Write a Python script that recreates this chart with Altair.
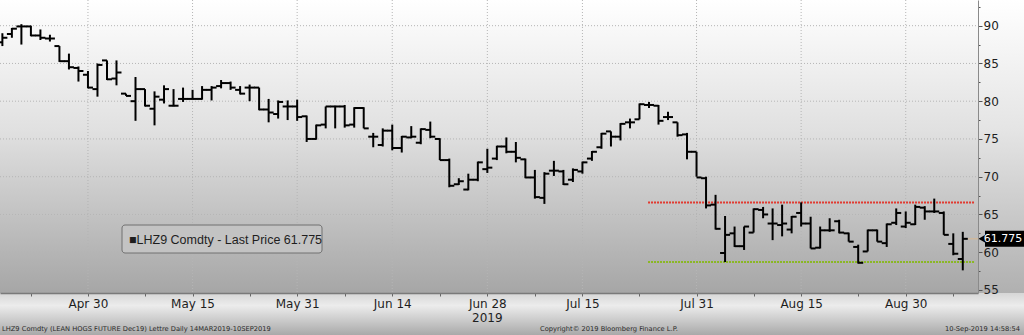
import altair as alt
import pandas as pd

# ---------------- data ----------------
first_index = -9  # trading days relative to Apr 30 (index 0)
opens = [87.8, 88.9, 89.9, 89.9, 88.7, 88.3, 87.3, 85.3, 84.4, 83.5,
         81.6, 85.4, 83.0, 81.0, 80.0, 81.6, 79.0, 80.2, 79.4, 80.3,
         80.3, 80.3, 81.5, 82.0, 82.4, 81.5, 81.8, 81.8, 78.9, 78.3,
         79.3, 79.3, 78.0, 75.0, 76.9, 79.3, 79.3, 76.9, 79.1, 75.3,
         74.2, 76.1, 73.8, 75.2, 74.5, 76.2, 75.0, 72.2, 69.0, 68.3,
         69.6, 71.0, 72.4, 74.0, 73.3, 72.3, 69.9, 67.2, 70.8, 70.7,
         69.6, 70.7, 72.4, 73.9, 76.0, 75.3, 77.2, 77.6, 79.5, 79.4,
         77.9, 77.2, 75.6, 73.3, 69.8, 66.3, 59.9, 62.5, 60.8, 62.6,
         65.6, 63.8, 63.6, 63.0, 65.2, 63.8, 60.6, 62.9, 64.1, 62.5,
         60.7, 60.1, 62.9, 61.2, 63.9, 63.4, 63.7, 65.9, 65.4, 65.2,
         61.1, 59.1]
highs = [89.0, 89.7, 90.2, 90.0, 89.5, 88.8, 87.3, 86.3, 84.6, 84.0,
         85.0, 85.4, 85.4, 81.0, 83.2, 81.6, 81.3, 82.1, 81.6, 81.8,
         81.5, 82.0, 82.0, 82.8, 82.6, 82.0, 82.2, 81.8, 80.3, 80.1,
         80.1, 80.2, 78.1, 76.9, 79.3, 79.4, 79.5, 79.2, 79.2, 75.8,
         76.4, 76.9, 75.4, 76.7, 76.4, 77.3, 75.1, 72.4, 69.8, 70.4,
         72.0, 73.7, 74.1, 75.2, 74.6, 72.4, 70.9, 70.6, 72.1, 70.9,
         71.1, 72.0, 73.4, 75.8, 76.0, 77.1, 77.7, 79.7, 79.9, 79.5,
         78.6, 77.2, 75.8, 73.3, 70.0, 67.6, 64.8, 63.4, 63.4, 65.8,
         66.0, 65.8, 66.3, 64.8, 66.6, 64.7, 63.4, 64.5, 64.3, 62.6,
         61.0, 63.0, 63.0, 63.8, 65.8, 65.4, 66.3, 66.1, 67.1, 65.4,
         62.5, 62.7]
lows = [87.3, 88.4, 87.5, 88.6, 88.1, 87.9, 85.2, 84.2, 82.6, 81.7,
        80.6, 82.8, 82.1, 80.7, 77.4, 79.3, 76.8, 79.7, 79.3, 79.9,
        80.2, 80.2, 80.1, 81.7, 81.5, 80.9, 80.0, 78.8, 77.2, 77.7,
        77.5, 77.4, 74.6, 74.9, 76.4, 76.4, 76.5, 76.5, 76.4, 73.9,
        74.0, 73.5, 73.2, 75.1, 74.3, 75.1, 72.2, 68.6, 68.9, 68.2,
        69.4, 70.5, 72.2, 73.1, 71.9, 69.8, 67.1, 66.4, 70.1, 68.9,
        69.3, 70.4, 72.1, 73.7, 74.0, 74.8, 76.4, 77.6, 79.1, 76.9,
        77.5, 75.3, 72.3, 70.0, 65.8, 63.0, 58.7, 60.7, 60.3, 62.6,
        64.5, 61.6, 62.1, 62.5, 63.4, 60.5, 60.5, 62.7, 62.5, 61.4,
        58.5, 60.1, 61.4, 60.7, 63.6, 63.2, 63.6, 64.3, 65.2, 62.3,
        59.6, 57.6]
closes = [88.4, 89.6, 89.9, 88.7, 88.4, 88.3, 85.3, 84.5, 84.0, 81.8,
          84.8, 82.9, 83.8, 80.7, 81.6, 79.4, 80.6, 81.6, 79.4, 80.3,
          80.3, 81.5, 81.8, 82.4, 81.8, 81.0, 81.8, 78.9, 78.5, 79.9,
          79.3, 77.9, 75.0, 76.8, 79.3, 79.3, 76.8, 79.1, 76.4, 75.3,
          76.1, 73.8, 75.3, 75.3, 76.3, 75.3, 72.2, 68.8, 69.4, 69.6,
          71.9, 71.2, 74.0, 73.3, 72.5, 69.9, 67.3, 70.4, 70.8, 69.0,
          70.9, 71.9, 73.3, 75.7, 75.3, 77.0, 77.2, 79.6, 79.5, 77.4,
          77.9, 75.5, 73.3, 69.9, 66.2, 63.1, 62.3, 60.8, 63.4, 65.7,
          65.0, 63.8, 63.8, 64.7, 63.8, 60.5, 62.9, 62.9, 62.6, 61.4,
          58.6, 62.9, 61.4, 63.7, 65.2, 63.9, 66.0, 65.4, 65.4, 62.3,
          59.8, 61.775]

label_idx = [0, 11, 22, 32, 42, 52, 64, 75, 86]
label_txt = ["Apr 30", "May 15", "May 31", "Jun 14", "Jun 28", "Jul 15", "Jul 31", "Aug 15", "Aug 30"]
minor_idx = [-6, 6, 17, 27, 37, 47, 58, 70, 81, 91]
year_idx = 42
year_txt = "2019"

y_ticks = [55, 57.5, 60, 62.5, 65, 67.5, 70, 72.5, 75, 77.5, 80, 82.5, 85, 87.5, 90, 92.5]
y_grid = [60, 65, 70, 75, 80, 85, 90]

level_values = [66.6, 58.7]
level_colors = ["#e2392f", "#8ab823"]
level_start = 58.9

ticker = "LHZ9 Comdty"
footer_left = "LHZ9 Comdty (LEAN HOGS FUTURE  Dec19) Lettre  Daily 14MAR2019-10SEP2019"
footer_mid = "Copyright\u00a9 2019 Bloomberg Finance L.P."
footer_right = "10-Sep-2019 14:58:54"

# ---------------- frames ----------------
n = len(closes)
df = pd.DataFrame({
    "i": list(range(first_index, first_index + n)),
    "open": opens, "high": highs, "low": lows, "close": closes,
})
last_close = closes[-1]
last_df = pd.DataFrame({"i": [df["i"].iloc[-1]], "v": [last_close],
                        "t": [f"{last_close:.3f}"]})
grid_x_df = pd.DataFrame({"i": label_idx})
grid_y_df = pd.DataFrame({"v": y_grid})
level_df = pd.DataFrame({"i": [level_start] * 2, "v": level_values, "c": level_colors})
year_df = pd.DataFrame({"i": [year_idx], "t": [year_txt]})
one = pd.DataFrame({"k": [0]})

W, H = 978, 293
FONT = "DejaVu Sans"
FONT2 = "Liberation Sans"

xs = alt.Scale(domain=[-9.25, 93.6], nice=False, zero=False)
ys = alt.Scale(domain=[54.6, 93.4], nice=False, zero=False)

all_x = sorted(label_idx + minor_idx)
lab_arr = "[" + ",".join(str(v) for v in label_idx) + "]"
txt_arr = "[" + ",".join("'" + t + "'" for t in label_txt) + "]"
x_axis = alt.Axis(
    values=all_x, grid=False, title=None, orient="bottom", zindex=1,
    labelExpr=f"indexof({lab_arr}, datum.value) >= 0 ? {txt_arr}[indexof({lab_arr}, datum.value)] : ''",
    labelFont=FONT, labelFontSize=12, labelColor="#1e1e1e", labelPadding=2,
    labelOverlap=False, labelFlush=False,
    tickSize=3, tickColor="#666666", domainColor="#7a7a7a", domainWidth=1.5,
)
y_axis = alt.Axis(
    values=y_ticks, grid=False, title=None, orient="right", zindex=1,
    labelExpr="datum.value % 5 === 0 ? datum.label : ''",
    labelFont=FONT, labelFontSize=12, labelColor="#1e1e1e", labelPadding=1,
    tickSize={"condition": {"test": "datum.value % 5 === 0", "value": 4}, "value": 2},
    tickColor="#555555", domainColor="#8a8a8a", domainWidth=1,
)


def X(f="i"):
    return alt.X(f, type="quantitative", scale=xs, axis=x_axis)


def Y(f):
    return alt.Y(f, type="quantitative", scale=ys, axis=y_axis)


def grad(stops):
    return alt.Gradient(gradient="linear", x1=0, x2=0, y1=0, y2=1,
                        stops=[alt.GradientStop(color=c, offset=o) for o, c in stops])


plot_bg = alt.Chart(one).mark_rect(
    fill=grad([(0, "#ffffff"), (0.45, "#e0e0e0"), (1, "#a6a6a6")]), strokeWidth=0
).encode(x=alt.value(0), x2=alt.value(W), y=alt.value(0), y2=alt.value(H))
right_bg = alt.Chart(one).mark_rect(
    fill=grad([(0, "#ffffff"), (0.45, "#e4e4e4"), (1, "#b0b0b0")]), strokeWidth=0
).encode(x=alt.value(W), x2=alt.value(1024), y=alt.value(0), y2=alt.value(H))
bottom_bg = alt.Chart(one).mark_rect(
    fill=grad([(0, "#d6d6d6"), (0.3, "#ececec"), (1, "#a9a9a9")]), strokeWidth=0
).encode(x=alt.value(0), x2=alt.value(1024), y=alt.value(H), y2=alt.value(H + 42))

grid_v = alt.Chart(grid_x_df).mark_rule(color="#b5b5b5", strokeDash=[1, 2], strokeWidth=1).encode(
    x=X(), y=alt.value(0), y2=alt.value(H))
grid_h = alt.Chart(grid_y_df).mark_rule(color="#b5b5b5", strokeDash=[1, 2], strokeWidth=1).encode(
    y=Y("v"), x=alt.value(0), x2=alt.value(W))

levels = alt.Chart(level_df).mark_rule(strokeDash=[2, 1], strokeWidth=2).encode(
    x=X(), x2=alt.value(W - 3), y=Y("v"), color=alt.Color("c:N", scale=None))

base = alt.Chart(df)
hl = base.mark_rule(color="black", strokeWidth=2).encode(x=X(), y=Y("low"), y2="high")
op = base.mark_rule(color="black", strokeWidth=2, xOffset=-5).encode(x=X(), x2="i", y=Y("open"))
cl = base.mark_rule(color="black", strokeWidth=2, x2Offset=5).encode(x=X(), x2="i", y=Y("close"))

legend_box = alt.Chart(one).mark_rect(
    fill="#c3c3c3", stroke="#707070", strokeWidth=1, cornerRadius=3
).encode(x=alt.value(122), x2=alt.value(322), y=alt.value(225), y2=alt.value(253))
legend_txt = alt.Chart(one).mark_text(
    align="left", baseline="middle", font=FONT2, fontSize=12.5, color="#1e1e1e",
    text="\u25a0" + ticker + " - Last Price " + f"{last_close:.3f}"
).encode(x=alt.value(129), y=alt.value(239.5))

last_line = alt.Chart(last_df).mark_rule(color="#d8b890", strokeWidth=1).encode(
    x=alt.value(W - 10), x2=alt.value(W), y=Y("v"))
last_rect = alt.Chart(last_df).mark_rect(color="black", yOffset=-8, y2Offset=8).encode(
    x=alt.value(W + 7), x2=alt.value(1024), y=Y("v"), y2="v")
last_tri = alt.Chart(last_df).mark_point(shape="triangle-left", filled=True, color="black",
                                         opacity=1, size=110).encode(x=alt.value(W + 5), y=Y("v"))
last_txt = alt.Chart(last_df).mark_text(color="white", font=FONT, fontSize=11, align="center",
                                        baseline="middle").encode(
    x=alt.value(1003), y=Y("v"), text="t:N")

year_lbl = alt.Chart(year_df).mark_text(font=FONT, fontSize=12, color="#1e1e1e", baseline="middle").encode(
    x=X(), y=alt.value(H + 25), text="t:N")

f_left = alt.Chart(one).mark_text(align="left", baseline="middle", font=FONT, fontSize=6.7,
                                  color="#2a2a2a", text=footer_left).encode(
    x=alt.value(2), y=alt.value(329))
f_mid = alt.Chart(one).mark_text(align="left", baseline="middle", font=FONT, fontSize=6.7,
                                 color="#2a2a2a", text=footer_mid).encode(
    x=alt.value(540), y=alt.value(329))
f_right = alt.Chart(one).mark_text(align="right", baseline="middle", font=FONT, fontSize=6.7,
                                   color="#2a2a2a", text=footer_right).encode(
    x=alt.value(1020), y=alt.value(329))

chart = alt.layer(
    plot_bg, right_bg, bottom_bg, grid_v, grid_h, levels, hl, op, cl,
    legend_box, legend_txt, last_line, last_rect, last_tri, last_txt,
    year_lbl, f_left, f_mid, f_right,
).properties(
    width=W, height=H,
    autosize=alt.AutoSizeParams(type="none"),
    padding={"left": 0, "top": 0, "right": 1024 - W, "bottom": 335 - H},
    background="#cfcfcf",
).configure_view(strokeWidth=0)

chart.save("out.html", embed_options={"renderer": "svg", "actions": False})
